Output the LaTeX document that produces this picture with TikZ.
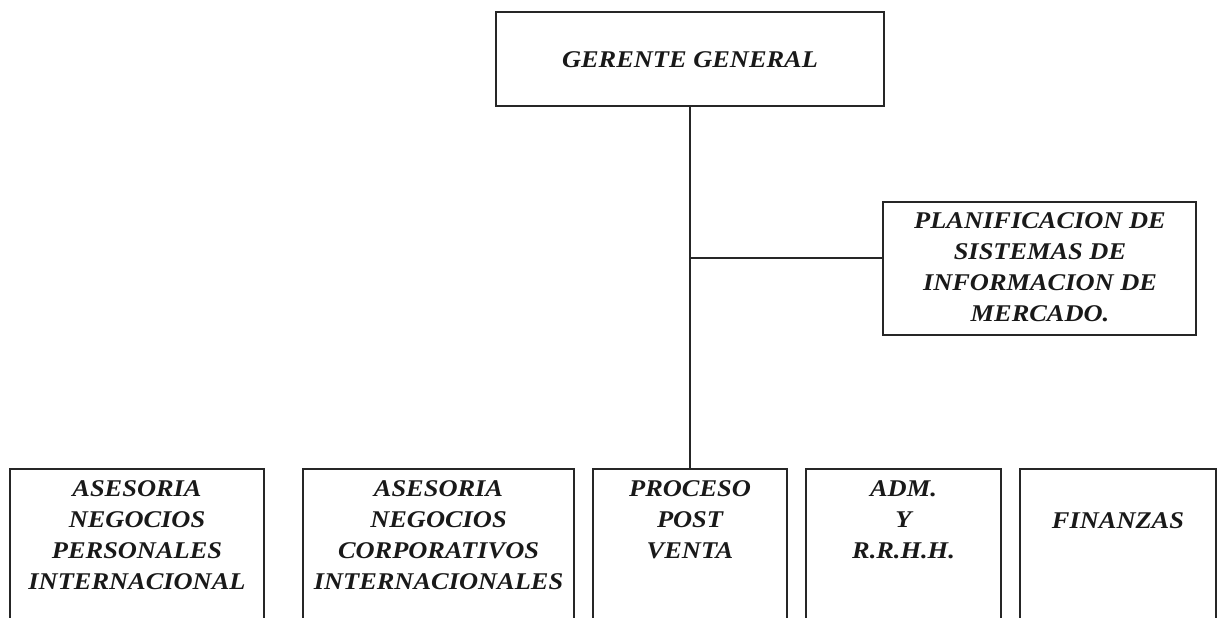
\documentclass[tikz,border=0pt]{standalone}
\usepackage{fontspec}
\setmainfont{Liberation Serif}
\newfontfamily\orgfont[FakeStretch=1.1]{Liberation Serif}
\begin{document}
\begin{tikzpicture}[x=1pt,y=-1pt,
  box/.style={draw=black!85, line width=2pt, rectangle, inner sep=0pt},
  lbl/.style={align=center, inner sep=0pt, text=black!90,
    font=\orgfont\fontsize{24}{31}\selectfont\bfseries\itshape},
  link/.style={draw=black!85, line width=2pt}]
  \useasboundingbox (0,0) rectangle (1219,618);
  \clip (0,0) rectangle (1219,618);

  % frames
  \node[box, minimum width=388pt, minimum height=94pt] (gg) at (690,59) {};
  \node[box, minimum width=313pt, minimum height=133pt] (pl) at (1039.5,268.5) {};
  \node[box, minimum width=254pt, minimum height=181pt] (a1) at (137,559.5) {};
  \node[box, minimum width=271pt, minimum height=181pt] (a2) at (438.5,559.5) {};
  \node[box, minimum width=194pt, minimum height=181pt] (pv) at (690,559.5) {};
  \node[box, minimum width=195pt, minimum height=181pt] (ad) at (903.5,559.5) {};
  \node[box, minimum width=196pt, minimum height=181pt] (fi) at (1118,559.5) {};

  % labels
  \node[lbl] (tgg) at (690,60) {GERENTE GENERAL};
  \node[lbl] (tpl) at (1040,267.5) {PLANIFICACION DE\\SISTEMAS DE\\INFORMACION DE\\MERCADO.};
  \node[lbl] (ta1) at (137,535.5) {ASESORIA\\NEGOCIOS\\PERSONALES\\INTERNACIONAL};
  \node[lbl] (ta2) at (438.5,535.5) {ASESORIA\\NEGOCIOS\\CORPORATIVOS\\INTERNACIONALES};
  \node[lbl] (tpv) at (690,520) {PROCESO\\POST\\VENTA};
  \node[lbl] (tad) at (903.5,520) {ADM.\\Y\\R.R.H.H.};
  \node[lbl] (tfi) at (1118,521) {FINANZAS};

  % connectors
  \coordinate (j) at (690,258);
  \draw[link] (gg.south) -- (pv.north);
  \draw[link] (j) -- (j -| pl.west);
\end{tikzpicture}
\end{document}
